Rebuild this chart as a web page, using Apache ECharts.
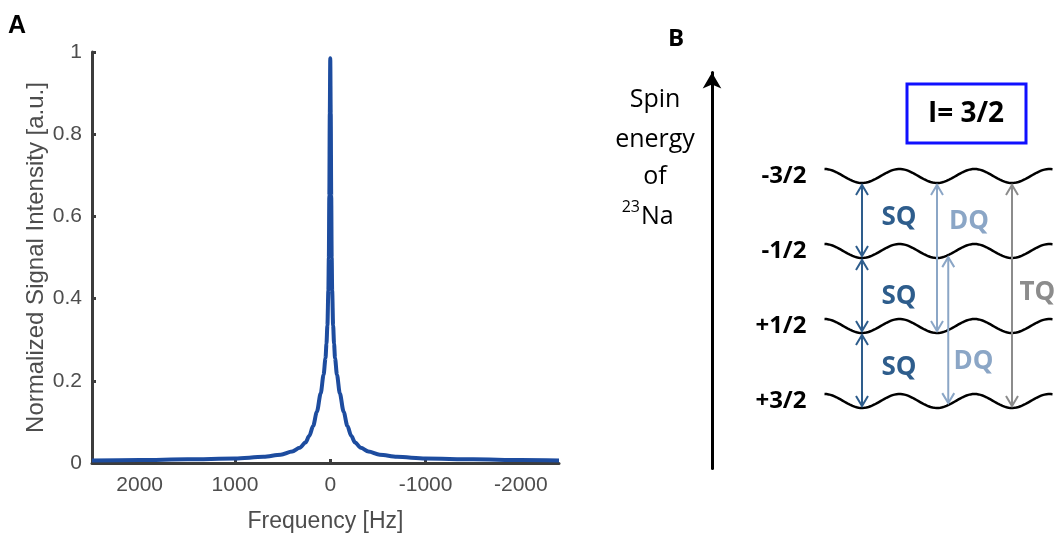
<!DOCTYPE html>
<html>
<head>
    <meta charset="utf-8">
    <title>23Na signal and spin energy levels</title>
    <script src="https://cdn.jsdelivr.net/npm/echarts@6/dist/echarts.min.js"></script>
    <style>
        html, body { margin: 0; padding: 0; background: #ffffff; }
        #main { width: 1058px; height: 538px; }
    </style>
</head>
<body>
<div id="main"></div>
<script>
    // panel A: spectrum (Hz, normalized intensity)
    var freqHz = [2500, 2000, 1500, 1000, 700, 520, 400, 320, 260, 220, 180, 140, 100, 70, 50, 40, 30, 20, 15, 10, 5, 0,
        -5, -10, -15, -20, -30, -40, -50, -70, -100, -140, -180, -220, -260, -320, -400, -520, -700, -1000, -1500, -2000, -2400];
    var intensity = [0.006, 0.007, 0.009, 0.011, 0.015, 0.02, 0.028, 0.037, 0.05, 0.066, 0.09, 0.125, 0.17, 0.215, 0.255, 0.29, 0.335, 0.42, 0.5, 0.65, 0.85, 0.985,
        0.85, 0.65, 0.5, 0.42, 0.335, 0.29, 0.255, 0.215, 0.17, 0.125, 0.09, 0.066, 0.05, 0.037, 0.028, 0.02, 0.015, 0.011, 0.009, 0.007, 0.006];
    var freqTicks = [2000, 1000, 0, -1000, -2000];

    // panel B: spin levels (energy steps) and transitions between them
    var levelNames = ['-3/2', '-1/2', '+1/2', '+3/2'];
    var levelEnergy = [3, 2, 1, 0];
    var transNames = ['SQ', 'SQ', 'SQ', 'DQ', 'DQ', 'TQ'];
    var transX = [0, 0, 0, 1, 1.15, 2];
    var transFrom = [3, 2, 1, 3, 2, 3];
    var transTo = [2, 1, 0, 1, 0, 0];
    var transLabelX = [0.26, 0.26, 0.26, 1.16, 1.22, 2.1];
    var transLabelE = [2.44, 1.39, 0.45, 2.39, 0.52, 1.45];

    var typeColor = { SQ: '#2e5d8c', DQ: '#8ba6c6', TQ: '#8c8c8c' };
    var waveAmp = 7;
    var waveStart = -0.5, waveEnd = 2.55;
    var axisGray = '#3c3c3c';
    var textGray = '#4d4d4d';

    var lineData = freqHz.map(function (f, i) { return [f, intensity[i]]; });

    function waveOffset(xu) {
        return waveAmp * Math.cos(2 * Math.PI * xu);
    }

    function renderLevel(params, api) {
        var e = api.value(0);
        var start = api.coord([waveStart, e]);
        var end = api.coord([waveEnd, e]);
        var origin = api.coord([0, e]);
        var period = api.size([1, 0])[0];
        var pts = [];
        for (var px = start[0]; px <= end[0]; px += 2) {
            pts.push([px, origin[1] + waveAmp * Math.cos(2 * Math.PI * (px - origin[0]) / period)]);
        }
        return {
            type: 'group',
            children: [{
                type: 'polyline',
                shape: { points: pts },
                style: { stroke: '#000000', lineWidth: 2.5, fill: null }
            }, {
                type: 'text',
                style: {
                    x: start[0] - 18, y: origin[1],
                    text: levelNames[params.dataIndex],
                    align: 'right', verticalAlign: 'middle',
                    font: 'bold 24px "Open Sans"', fill: '#000000'
                }
            }]
        };
    }

    function renderTransition(params, api) {
        var x = api.value(0);
        var name = transNames[params.dataIndex];
        var color = typeColor[name];
        var pTop = api.coord([x, api.value(1)]);
        var pBot = api.coord([x, api.value(2)]);
        var pLab = api.coord([api.value(3), api.value(4)]);
        var X = pTop[0];
        var topY = pTop[1] + waveOffset(x) + 2;
        var botY = pBot[1] + waveOffset(x) - 2;
        var st = { stroke: color, lineWidth: 2, fill: null };
        return {
            type: 'group',
            children: [
                { type: 'line', shape: { x1: X, y1: topY, x2: X, y2: botY }, style: st },
                { type: 'polyline', shape: { points: [[X - 6, topY + 10], [X, topY], [X + 6, topY + 10]] }, style: st },
                { type: 'polyline', shape: { points: [[X - 6, botY - 10], [X, botY], [X + 6, botY - 10]] }, style: st },
                {
                    type: 'text',
                    style: {
                        x: pLab[0], y: pLab[1], text: name,
                        align: 'left', verticalAlign: 'middle',
                        font: 'bold 26px "Open Sans"', fill: color
                    }
                }
            ]
        };
    }

    var chart = echarts.init(document.getElementById('main'));

    var option = {
        animation: false,
        backgroundColor: '#ffffff',
        grid: [
            { left: 92, top: 52, width: 467, height: 415 },
            { left: 712, top: 72.5, width: 345, height: 396 }
        ],
        xAxis: [{
            gridIndex: 0,
            type: 'value',
            min: -2400,
            max: 2500,
            inverse: true,
            name: 'Frequency [Hz]',
            nameLocation: 'middle',
            nameGap: 47,
            nameTextStyle: { fontFamily: 'Liberation Sans', fontSize: 23, color: textGray },
            axisLine: { lineStyle: { color: axisGray, width: 3 } },
            axisTick: { inside: true, length: 4, customValues: freqTicks, lineStyle: { color: axisGray, width: 3 } },
            axisLabel: {
                customValues: freqTicks,
                formatter: function (v) { return String(v); },
                fontFamily: 'Liberation Sans', fontSize: 21, color: textGray, margin: 12
            },
            splitLine: { show: false }
        }, {
            gridIndex: 1,
            type: 'value',
            min: -2,
            max: 2.6,
            show: false
        }],
        yAxis: [{
            gridIndex: 0,
            type: 'value',
            min: 0,
            max: 1,
            interval: 0.2,
            name: 'Normalized Signal Intensity [a.u.]',
            nameLocation: 'middle',
            nameGap: 44,
            nameTextStyle: { fontFamily: 'Liberation Sans', fontSize: 24, color: textGray },
            axisLine: { onZero: false, lineStyle: { color: axisGray, width: 3 } },
            axisTick: { inside: true, length: 4, lineStyle: { color: axisGray, width: 3 } },
            axisLabel: { fontFamily: 'Liberation Sans', fontSize: 21, color: textGray, margin: 10 },
            splitLine: { show: false }
        }, {
            gridIndex: 1,
            type: 'value',
            min: -0.9,
            max: 4.38,
            axisLine: {
                show: true,
                onZero: false,
                symbol: ['none', 'arrow'],
                symbolSize: [14, 16],
                lineStyle: { color: '#000000', width: 3 }
            },
            axisTick: { show: false },
            axisLabel: { show: false },
            splitLine: { show: false }
        }],
        graphic: [
            { type: 'text', left: 8, top: 14, style: { text: 'A', font: 'bold 25px "Liberation Sans"', fill: '#000000' } },
            { type: 'text', left: 668, top: 27, style: { text: 'B', font: 'bold 24px "Open Sans"', fill: '#000000' } },
            { type: 'text', x: 655, y: 100, style: { text: 'Spin', align: 'center', verticalAlign: 'middle', font: '25px "Open Sans"', fill: '#000000' } },
            { type: 'text', x: 655, y: 140, style: { text: 'energy', align: 'center', verticalAlign: 'middle', font: '25px "Open Sans"', fill: '#000000' } },
            { type: 'text', x: 655, y: 177, style: { text: 'of', align: 'center', verticalAlign: 'middle', font: '25px "Open Sans"', fill: '#000000' } },
            { type: 'text', x: 640, y: 207, style: { text: '23', align: 'right', verticalAlign: 'middle', font: '16px "Open Sans"', fill: '#000000' } },
            { type: 'text', x: 641, y: 217, style: { text: 'Na', align: 'left', verticalAlign: 'middle', font: '25px "Open Sans"', fill: '#000000' } },
            { type: 'rect', shape: { x: 907, y: 84, width: 119, height: 59 }, style: { stroke: '#1010ff', lineWidth: 3, fill: null } },
            { type: 'text', x: 966, y: 114, style: { text: 'I= 3/2', align: 'center', verticalAlign: 'middle', font: 'bold 28px "Open Sans"', fill: '#000000' } }
        ],
        series: [{
            name: 'signal',
            type: 'line',
            xAxisIndex: 0,
            yAxisIndex: 0,
            data: lineData,
            showSymbol: false,
            symbol: 'none',
            smooth: 0.3,
            smoothMonotone: 'x',
            lineStyle: { color: '#1d4c9f', width: 4 }
        }, {
            name: 'levels',
            type: 'custom',
            xAxisIndex: 1,
            yAxisIndex: 1,
            renderItem: renderLevel,
            data: levelEnergy.map(function (e) { return [e]; })
        }, {
            name: 'transitions',
            type: 'custom',
            xAxisIndex: 1,
            yAxisIndex: 1,
            renderItem: renderTransition,
            data: transX.map(function (x, i) {
                return [x, transFrom[i], transTo[i], transLabelX[i], transLabelE[i]];
            })
        }]
    };

    chart.setOption(option);
</script>
</body>
</html>
